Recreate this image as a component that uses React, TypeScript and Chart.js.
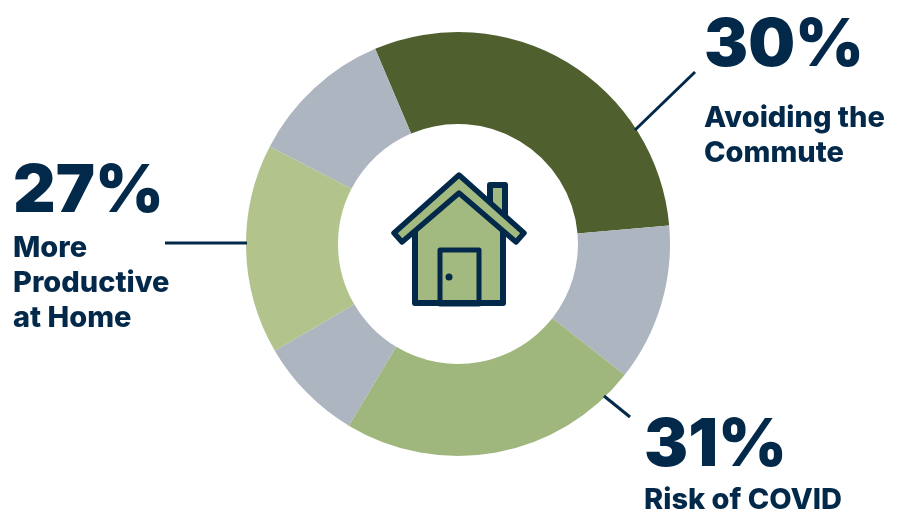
import React, { useEffect, useRef } from "react";
import { Chart, registerables } from "chart.js";

Chart.register(...registerables);

// Ring shares in clockwise order. The two green groups pair a green slice with
// the grey slice beside it, so each pair adds up to its stated percentage.
const segmentNames = [
  "Avoiding the Commute",
  "Remainder",
  "Risk of COVID",
  "Risk of COVID (grey)",
  "More Productive at Home",
  "More Productive at Home (grey)",
];
const segmentValues = [30, 12, 23, 8, 16, 11];
const segmentColors = ["#4f5f2e", "#adb5c0", "#9fb67c", "#adb5c0", "#b2c48c", "#adb5c0"];

const headlineValues = ["30%", "31%", "27%"];
const captionLines = [["Avoiding the", "Commute"], ["Risk of COVID"], ["More", "Productive", "at Home"]];

const NAVY = "#03294a";
const FONT = "Inter, 'Liberation Sans', sans-serif";

function drawLabel(
  ctx: CanvasRenderingContext2D,
  x: number,
  headlineBase: number,
  headline: string,
  lines: string[],
  firstBase: number,
  lineGap: number
) {
  ctx.fillStyle = NAVY;
  ctx.textAlign = "left";
  ctx.textBaseline = "alphabetic";
  ctx.font = `900 66px ${FONT}`;
  ctx.fillText(headline, x, headlineBase);
  ctx.font = `800 29px ${FONT}`;
  lines.forEach((line, i) => ctx.fillText(line, x, firstBase + i * lineGap));
}

function drawLeader(ctx: CanvasRenderingContext2D, x1: number, y1: number, x2: number, y2: number) {
  ctx.strokeStyle = NAVY;
  ctx.lineWidth = 3;
  ctx.beginPath();
  ctx.moveTo(x1, y1);
  ctx.lineTo(x2, y2);
  ctx.stroke();
}

function drawHouse(ctx: CanvasRenderingContext2D) {
  const fill = "#a2ba7f";
  ctx.save();
  ctx.strokeStyle = NAVY;
  ctx.fillStyle = fill;
  ctx.lineJoin = "round";
  ctx.lineCap = "round";
  ctx.lineWidth = 6;

  // chimney
  ctx.beginPath();
  ctx.rect(490, 185, 15, 30);
  ctx.fill();
  ctx.stroke();

  // walls
  ctx.beginPath();
  ctx.moveTo(415, 222);
  ctx.lineTo(459, 190);
  ctx.lineTo(503, 222);
  ctx.lineTo(503, 303);
  ctx.lineTo(415, 303);
  ctx.closePath();
  ctx.fill();
  ctx.stroke();

  // roof band
  ctx.lineWidth = 5.5;
  ctx.beginPath();
  ctx.moveTo(459, 175);
  ctx.lineTo(524, 233);
  ctx.lineTo(516, 242);
  ctx.lineTo(459, 193);
  ctx.lineTo(402, 242);
  ctx.lineTo(394, 233);
  ctx.closePath();
  ctx.fill();
  ctx.stroke();

  // door and knob
  ctx.lineWidth = 5;
  ctx.beginPath();
  ctx.rect(440, 250, 39, 54);
  ctx.stroke();
  ctx.fillStyle = NAVY;
  ctx.beginPath();
  ctx.arc(449, 277, 3.5, 0, Math.PI * 2);
  ctx.fill();
  ctx.restore();
}

const annotations = {
  id: "annotations",
  afterDraw(chart: Chart) {
    const ctx = chart.ctx;
    ctx.save();
    drawLeader(ctx, 695, 72, 635, 130);
    drawLeader(ctx, 604, 396, 630, 417);
    drawLeader(ctx, 165, 243, 247, 243);
    drawLabel(ctx, 704, 66, headlineValues[0], captionLines[0], 127, 35);
    drawLabel(ctx, 644, 466, headlineValues[1], captionLines[1], 509, 35);
    drawLabel(ctx, 13, 212, headlineValues[2], captionLines[2], 257, 35);
    drawHouse(ctx);
    ctx.restore();
  },
};

export default function App() {
  const canvasRef = useRef<HTMLCanvasElement>(null);

  useEffect(() => {
    const chart = new Chart(canvasRef.current!, {
      type: "doughnut",
      data: {
        labels: segmentNames,
        datasets: [{ data: segmentValues, backgroundColor: segmentColors, borderWidth: 0 }],
      },
      options: {
        animation: false,
        responsive: false,
        rotation: -23,
        cutout: "56.6%",
        layout: { padding: { left: 246, right: 230, top: 32, bottom: 54 } },
        plugins: { legend: { display: false }, tooltip: { enabled: false } },
      },
      plugins: [annotations],
    });
    return () => chart.destroy();
  }, []);

  return (
    <div style={{ position: "fixed", left: 0, top: 0, width: 900, height: 510, background: "#fff" }}>
      <canvas ref={canvasRef} width={900} height={510} style={{ display: "block" }} />
    </div>
  );
}
